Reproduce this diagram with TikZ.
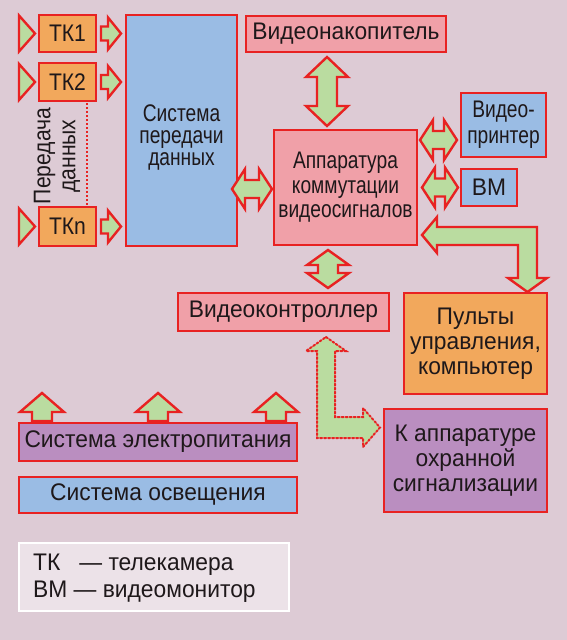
\documentclass[tikz,border=0pt]{standalone}
\usepackage{fontspec}
\setmainfont{Liberation Sans}[FakeStretch=0.95]
\newfontfamily\nfont{Liberation Sans}[FakeStretch=0.8]
\newfontfamily\mfont{Liberation Sans}[FakeStretch=0.88]
\definecolor{bg}{RGB}{221,203,213}
\definecolor{redb}{RGB}{232,34,34}
\definecolor{orng}{RGB}{242,168,92}
\definecolor{blu}{RGB}{154,188,228}
\definecolor{pnk}{RGB}{240,160,168}
\definecolor{purp}{RGB}{186,142,192}
\definecolor{grn}{RGB}{186,220,160}
\definecolor{legbg}{RGB}{236,226,232}
\definecolor{txt}{RGB}{30,24,26}
\begin{document}
\begin{tikzpicture}[x=1pt,y=-1pt,
  box/.style={draw=redb, line width=2.6pt, text=txt, align=center, inner sep=0pt,
    font=\fontsize{24}{25}\selectfont},
  barrow/.style={fill=grn, draw=redb, line width=2.4pt, line join=miter},
  darrow/.style={fill=grn, draw=redb, line width=2pt, dotted, line cap=round},
  tri/.style={fill=grn, draw=redb, line width=2.4pt, line join=miter}]
\useasboundingbox (0,0) rectangle (567,640);
\fill[bg] (0,0) rectangle (567,640);

% boxes
\node[box, fill=orng, minimum width=57, minimum height=37, font=\mfont\fontsize{24}{25}\selectfont] (tk1) at (67.5,33.5) {ТК1};
\node[box, fill=orng, minimum width=57, minimum height=38, font=\mfont\fontsize{24}{25}\selectfont] (tk2) at (67.5,82) {ТК2};
\node[box, fill=orng, minimum width=57, minimum height=39, font=\mfont\fontsize{24}{25}\selectfont] (tkn) at (67.5,226.5) {ТКn};
\node[box, fill=blu, minimum width=111, minimum height=231] (sys) at (181.5,130.5) {};
\node[text=txt, align=center, inner sep=0pt, font=\nfont\fontsize{24}{22}\selectfont] (systxt) at (181.5,138) {Система\\передачи\\данных};
\node[box, fill=pnk, minimum width=200, minimum height=36] (vnak) at (346,34) {Видеонакопитель};
\node[box, fill=pnk, minimum width=143, minimum height=115, font=\nfont\fontsize{24}{24.5}\selectfont] (app) at (345.5,187.5) {Аппаратура\\коммутации\\видеосигналов};
\node[box, fill=blu, minimum width=85, minimum height=64, font=\nfont\fontsize{24}{26}\selectfont] (vpr) at (503.5,125) {Видео-\\принтер};
\node[box, fill=blu, minimum width=56, minimum height=37] (vm) at (489,187.5) {ВМ};
\node[box, fill=pnk, minimum width=211, minimum height=38] (vctrl) at (283.5,312) {Видеоконтроллер};
\node[box, fill=orng, minimum width=143, minimum height=101] (pult) at (475.5,343.5) {Пульты\\управления,\\компьютер};
\node[box, fill=purp, minimum width=163, minimum height=103] (ohr) at (465.5,460.5) {К аппаратуре\\охранной\\сигнализации};
\node[box, fill=purp, minimum width=278, minimum height=38] (pwr) at (158,442) {Система электропитания};
\node[box, fill=blu, minimum width=278, minimum height=36] (light) at (158,495) {Система освещения};
\node[box, draw=white, fill=legbg, minimum width=270, minimum height=68] (leg) at (154,577) {};
\node[anchor=west, text=txt, align=left, inner sep=0pt, font=\fontsize{24}{27}\selectfont] (legtxt) at (33,578)
  {ТК\hspace{19pt}— телекамера\\ВМ — видеомонитор};

% rotated label and dotted line
\node[rotate=90, text=txt, align=center, inner sep=0pt, font=\mfont\fontsize{24}{25}\selectfont] (pd) at (57,156) {Передача\\данных};
\draw[redb, line width=2pt, dotted] (87,103) -- (87,205);

% input triangles and TK arrows
\foreach \c in {33.5,82,226.5}{
  \draw[tri] (19,\c-18) -- (35,\c) -- (19,\c+18) -- cycle;
  \draw[barrow] (101,\c-7) -- (108,\c-7) -- (108,\c-16) -- (121,\c) -- (108,\c+16) -- (108,\c+7) -- (101,\c+7) -- cycle;
}

% horizontal double arrows
\foreach \xa/\xb/\c in {232/272/189, 420/457/140, 422/458/187.5}{
  \draw[barrow] (\xa,\c) -- (\xa+13,\c-20) -- (\xa+13,\c-9) -- (\xb-13,\c-9) -- (\xb-13,\c-20)
     -- (\xb,\c) -- (\xb-13,\c+20) -- (\xb-13,\c+9) -- (\xa+13,\c+9) -- (\xa+13,\c+20) -- cycle;
}

% vertical double arrows
\draw[barrow] (327,57) -- (348,77) -- (337,77) -- (337,106) -- (348,106) -- (327,126)
   -- (306,106) -- (317,106) -- (317,77) -- (306,77) -- cycle;
\draw[barrow] (328,250) -- (349,265) -- (338,265) -- (338,273) -- (349,273) -- (328,288)
   -- (307,273) -- (318,273) -- (318,265) -- (307,265) -- cycle;

% L arrow pult -> app
\draw[barrow] (422,235) -- (437,217) -- (437,227) -- (537,227) -- (537,278) -- (547,278)
   -- (527.5,292) -- (508,278) -- (518,278) -- (518,245) -- (437,245) -- (437,253) -- cycle;

% dotted L arrow vctrl -> ohr
\draw[darrow] (326,337) -- (346,351) -- (335,351) -- (335,417) -- (363,417) -- (363,408)
   -- (380,427.5) -- (363,447) -- (363,438) -- (317,438) -- (317,351) -- (306,351) -- cycle;

% up arrows above power
\foreach \c in {42,158,276}{
  \draw[barrow] (\c,393) -- (\c+22,412) -- (\c+10,412) -- (\c+10,421) -- (\c-10,421)
     -- (\c-10,412) -- (\c-22,412) -- cycle;
}
\end{tikzpicture}
\end{document}
